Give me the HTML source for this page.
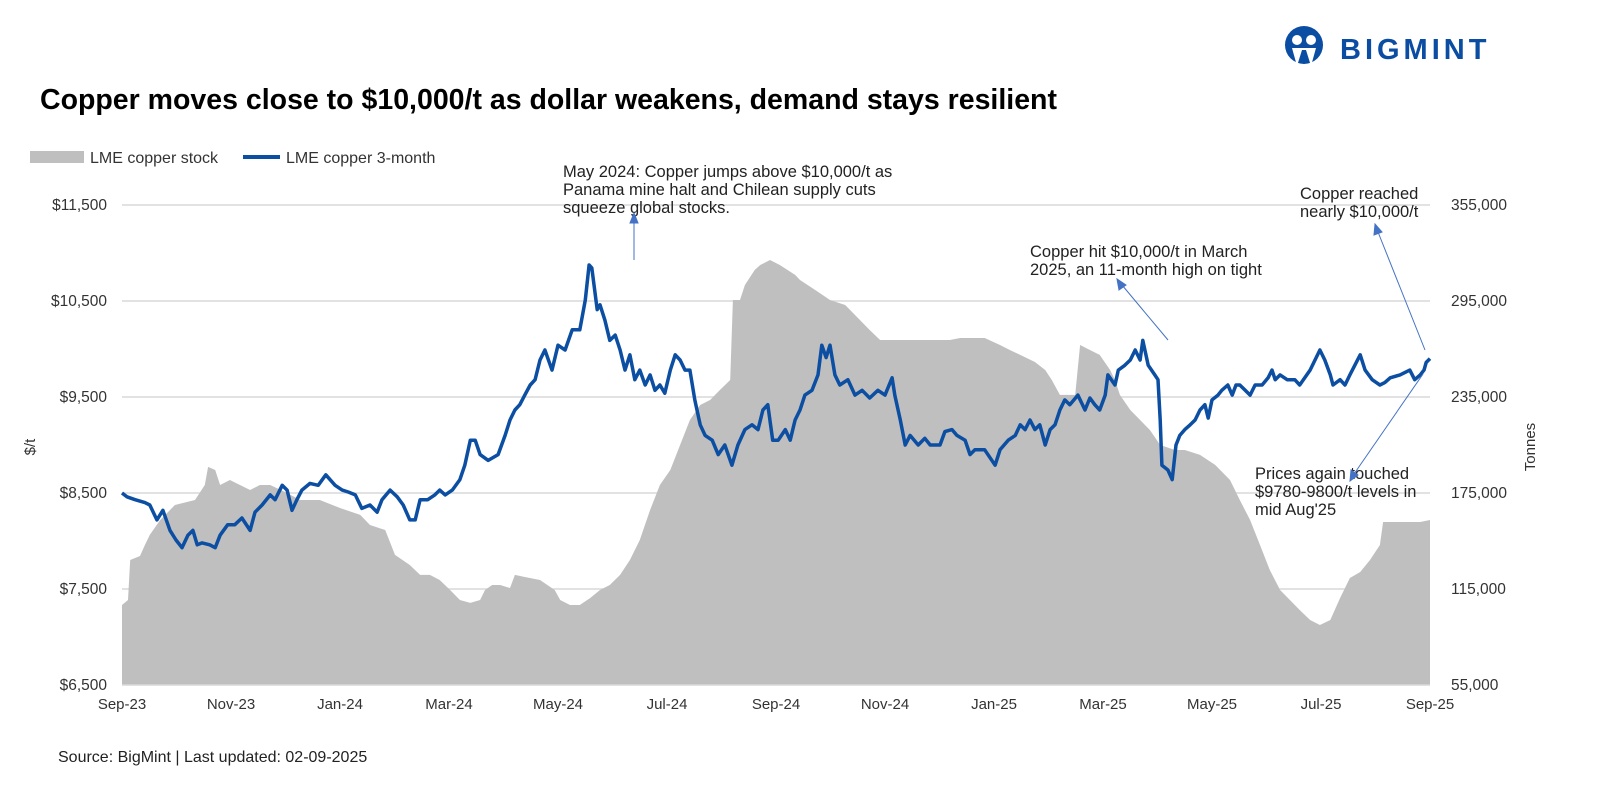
<!DOCTYPE html>
<html><head><meta charset="utf-8"><style>
body{margin:0;background:#fff;font-family:"Liberation Sans",sans-serif}
svg text{font-family:"Liberation Sans",sans-serif}
</style></head><body>
<svg id="c" width="1600" height="800" viewBox="0 0 1600 800" xmlns="http://www.w3.org/2000/svg">
<g>
<circle cx="1304" cy="45" r="19" fill="#0a4da2"/>
<circle cx="1297" cy="40" r="5" fill="#fff"/><circle cx="1311" cy="40" r="5" fill="#fff"/>
<path d="M1292 48 L1297 66 L1302 50 L1306 50 L1311 66 L1316 48Z" fill="#fff"/>
<text x="1340" y="59" font-size="29" font-weight="bold" fill="#0a4da2" letter-spacing="4">BIGMINT</text>
</g>
<text x="40" y="109" font-size="28.5" font-weight="bold" fill="#000">Copper moves close to $10,000/t as dollar weakens, demand stays resilient</text>
<g>
<rect x="30" y="151" width="54" height="12" fill="#bfbfbf"/>
<text x="90" y="163" font-size="16" fill="#333">LME copper stock</text>
<line x1="243" y1="157" x2="280" y2="157" stroke="#0b4ea2" stroke-width="4"/>
<text x="286" y="163" font-size="16" fill="#333">LME copper 3-month</text>
</g>
<g id="grid"></g>
<g id="area"></g>
<g id="line"></g>
<g id="axes"></g>
<g font-size="16.5" fill="#222">
<text x="563" y="177">May 2024: Copper jumps above $10,000/t as</text>
<text x="563" y="195">Panama mine halt and Chilean supply cuts</text>
<text x="563" y="213">squeeze global stocks.</text>
<text x="1300" y="199">Copper reached</text>
<text x="1300" y="217">nearly $10,000/t</text>
<text x="1030" y="257">Copper hit $10,000/t in March</text>
<text x="1030" y="275">2025, an 11-month high on tight</text>
<text x="1255" y="479">Prices again touched</text>
<text x="1255" y="497">$9780-9800/t levels in</text>
<text x="1255" y="515">mid Aug'25</text>
<g stroke="#4472c4" stroke-width="1" fill="#4472c4">
<line x1="634" y1="260" x2="634" y2="220"/><path d="M634 213 L630 223 L638 223Z"/>
<line x1="1425" y1="350" x2="1378" y2="232"/><path d="M1375 224 L1374 235 L1382 232Z"/>
<line x1="1168" y1="340" x2="1122" y2="285"/><path d="M1117 279 L1119 290 L1126 285Z"/>
<line x1="1423" y1="374" x2="1354" y2="474"/><path d="M1350 481 L1351 470 L1358 475Z"/>
</g>
</g>
<text x="58" y="762" font-size="16" fill="#222">Source: BigMint | Last updated: 02-09-2025</text>
</svg>
<script>
const xTickLabels=["Sep-23","Nov-23","Jan-24","Mar-24","May-24","Jul-24","Sep-24","Nov-24","Jan-25","Mar-25","May-25","Jul-25","Sep-25"];
const leftTicks=[6500,7500,8500,9500,10500,11500];
const rightTicks=[55000,115000,175000,235000,295000,355000];
const priceMonths=[0,.09,.24,.42,.51,.64,.75,.88,.99,1.10,1.21,1.30,1.38,1.47,1.61,1.71,1.80,1.94,2.07,2.20,2.35,2.44,2.57,2.72,2.81,2.94,3.03,3.12,3.21,3.30,3.45,3.60,3.74,3.91,4.04,4.15,4.28,4.40,4.55,4.68,4.77,4.92,5.05,5.16,5.28,5.38,5.47,5.61,5.74,5.83,5.93,6.06,6.20,6.29,6.39,6.48,6.57,6.72,6.90,7.03,7.12,7.21,7.30,7.39,7.49,7.58,7.67,7.76,7.89,8.00,8.13,8.26,8.40,8.50,8.57,8.62,8.72,8.77,8.86,8.95,9.05,9.14,9.23,9.32,9.41,9.50,9.60,9.69,9.78,9.87,9.96,10.06,10.15,10.24,10.33,10.42,10.51,10.61,10.70,10.83,10.94,11.06,11.19,11.30,11.43,11.56,11.67,11.76,11.85,11.94,12.04,12.17,12.26,12.35,12.44,12.53,12.66,12.77,12.84,12.92,12.99,13.08,13.17,13.32,13.45,13.58,13.72,13.87,14.00,14.13,14.18,14.28,14.37,14.46,14.61,14.73,14.83,15.01,15.10,15.23,15.32,15.47,15.56,15.65,15.83,16.02,16.11,16.26,16.39,16.48,16.57,16.66,16.75,16.84,16.94,17.03,17.12,17.21,17.30,17.39,17.54,17.67,17.76,17.85,17.94,18.04,18.09,18.22,18.28,18.40,18.50,18.59,18.68,18.73,18.83,18.95,19.01,19.05,19.08,19.19,19.27,19.34,19.41,19.50,19.60,19.69,19.78,19.87,19.93,20.00,20.11,20.18,20.29,20.37,20.44,20.51,20.61,20.70,20.79,20.92,21.03,21.10,21.16,21.25,21.38,21.52,21.61,21.80,21.98,22.07,22.17,22.22,22.35,22.44,22.53,22.62,22.72,22.81,22.94,23.08,23.17,23.27,23.45,23.63,23.72,23.82,23.89,23.93,24.00];
const priceValues=[8500,8460,8430,8400,8375,8220,8320,8110,8010,7930,8060,8110,7960,7980,7960,7930,8060,8170,8170,8240,8110,8300,8375,8480,8430,8580,8530,8320,8430,8530,8600,8580,8690,8580,8530,8510,8480,8340,8375,8300,8430,8530,8460,8375,8220,8220,8430,8430,8480,8530,8480,8530,8640,8790,9050,9050,8900,8840,8900,9100,9260,9365,9420,9520,9625,9680,9885,9990,9780,10040,9990,10200,10200,10510,10875,10845,10410,10460,10300,10090,10145,9990,9780,9940,9680,9780,9625,9730,9570,9625,9540,9780,9940,9885,9780,9780,9470,9210,9100,9050,8900,9000,8790,9000,9160,9210,9160,9365,9420,9050,9050,9160,9050,9260,9365,9520,9570,9730,10040,9910,10040,9730,9625,9680,9520,9570,9490,9570,9520,9700,9520,9260,9000,9100,9000,9070,9000,9000,9140,9160,9100,9050,8900,8950,8950,8790,8950,9050,9100,9210,9160,9260,9160,9210,9000,9160,9210,9365,9470,9420,9520,9365,9490,9420,9365,9520,9730,9625,9780,9830,9885,9990,9885,10090,9830,9730,9680,9260,8790,8740,8640,9000,9100,9160,9210,9260,9365,9420,9280,9470,9520,9570,9625,9520,9625,9625,9570,9520,9625,9625,9700,9780,9680,9730,9680,9680,9625,9780,9990,9885,9730,9625,9680,9625,9730,9830,9940,9780,9680,9625,9650,9700,9730,9780,9680,9730,9780,9860,9900];
const stockMonths=[0,.11,.15,.33,.42,.51,.70,.97,1.34,1.52,1.58,1.71,1.80,1.98,2.35,2.53,2.72,2.99,3.27,3.63,4.00,4.37,4.55,4.83,5.01,5.28,5.47,5.65,5.83,6.02,6.20,6.39,6.57,6.66,6.79,6.94,7.12,7.21,7.39,7.67,7.94,8.04,8.22,8.40,8.59,8.77,8.95,9.14,9.32,9.50,9.69,9.87,10.06,10.24,10.42,10.61,10.79,10.97,11.16,11.21,11.34,11.43,11.61,11.71,11.89,12.07,12.35,12.44,12.72,12.99,13.27,13.54,13.72,13.91,14.28,14.64,15.19,15.38,15.83,16.11,16.29,16.48,16.75,16.94,17.06,17.21,17.49,17.58,17.76,17.94,18.13,18.22,18.31,18.50,18.68,18.86,19.05,19.32,19.50,19.78,20.06,20.33,20.51,20.70,20.88,21.06,21.25,21.43,21.61,21.80,21.98,22.17,22.35,22.53,22.72,22.90,23.08,23.14,23.36,23.63,23.82,24.00];
const stockValues=[105000,108100,133100,135600,142500,148800,158100,167500,170600,180000,191300,189400,180000,183100,176900,180000,180000,175600,170600,170600,165600,161300,155000,151900,136300,130000,123800,123800,120600,114400,108100,106300,108100,114400,117500,117500,115600,123800,122500,120600,114400,108100,105000,105000,109400,114400,117500,123800,133100,145600,164400,180000,189400,205000,220600,230000,233100,239400,245600,295600,295600,305000,314400,317500,320600,317500,311300,308100,301900,295600,292500,283100,276900,270600,270600,270600,270600,271900,271900,267500,264400,261300,256900,251900,245600,236300,236300,267500,264400,261300,251900,245600,236300,226900,220600,214400,205000,201900,201900,198800,192500,183100,170600,158100,142500,126900,114400,108100,101900,95600,92500,95600,109400,121900,125600,133100,142500,156900,156900,156900,156900,158100];
const X0=122,X1=1430,Y0=685,Y1=205;
const xS=m=>X0+(X1-X0)*m/24;
const yL=v=>Y0-(v-6500)/(11500-6500)*(Y0-Y1);
const yR=v=>Y0-(v-55000)/(355000-55000)*(Y0-Y1);
const NS="http://www.w3.org/2000/svg";
function mk(tag,attrs,parent,txt){const e=document.createElementNS(NS,tag);for(const k in attrs)e.setAttribute(k,attrs[k]);if(txt!==undefined)e.textContent=txt;document.getElementById(parent).appendChild(e);return e;}
leftTicks.forEach((t,i)=>{const y=yL(t);
 if(i>0){const g=mk('line',{x1:X0,x2:X1,y1:y,y2:y,stroke:'#d9d9d9','stroke-width':1.5},'grid');
 
 }
 const l=mk('text',{x:107,y:y+5,'text-anchor':'end','font-size':15.5,fill:'#333'},'axes','$'+t.toLocaleString('en-US'));
 
 });
rightTicks.forEach(t=>{const l=mk('text',{x:1451,y:yR(t)+5,'font-size':15.5,fill:'#333'},'axes',t.toLocaleString('en-US'));
 
 });
let d='M'+xS(stockMonths[0])+','+Y0;
stockMonths.forEach((m,i)=>{d+=' L'+xS(m).toFixed(1)+','+yR(stockValues[i]).toFixed(1);});
d+=' L'+xS(stockMonths[stockMonths.length-1])+','+Y0+'Z';
const a=mk('path',{d:d,fill:'#bfbfbf'},'area');


const pd=priceMonths.map((m,i)=>(i?'L':'M')+xS(m).toFixed(1)+','+yL(priceValues[i]).toFixed(1)).join(' ');
const p=mk('path',{d:pd,fill:'none',stroke:'#0b4ea2','stroke-width':3.5,'stroke-linejoin':'round'},'line');


const ax=mk('line',{x1:X0,x2:X1,y1:Y0,y2:Y0,stroke:'#d9d9d9','stroke-width':1.5},'axes');


xTickLabels.forEach((t,i)=>{const l=mk('text',{x:xS(i*2),y:709,'text-anchor':'middle','font-size':15,fill:'#333'},'axes',t);
 
 });
const yt=mk('text',{x:0,y:0,transform:'translate(35,447) rotate(-90)','text-anchor':'middle','font-size':15,fill:'#333'},'axes','$/t');


const yt2=mk('text',{x:0,y:0,transform:'translate(1535,447) rotate(-90)','text-anchor':'middle','font-size':15,fill:'#333'},'axes','Tonnes');


</script>
</body></html>
